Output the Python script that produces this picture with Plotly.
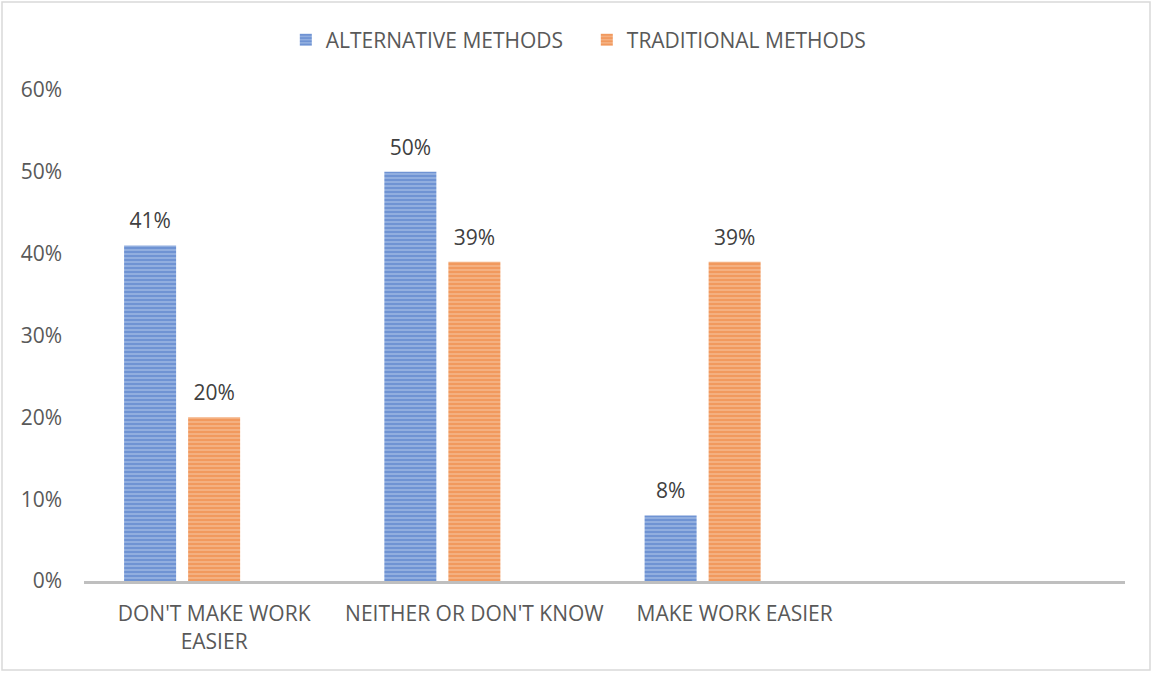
import plotly.graph_objects as go

categories = ["DON'T MAKE WORK<br>EASIER", "NEITHER OR DON'T KNOW", "MAKE WORK EASIER", " "]
alternative = [0.41, 0.50, 0.08]
traditional = [0.20, 0.39, 0.39]
blank_series = [None, None, None]
y_ticks = [0, 0.1, 0.2, 0.3, 0.4, 0.5, 0.6]
y_tick_labels = ["0%", "10%", "20%", "30%", "40%", "50%", "60%"]

FONT = "Open Sans"
FS = 21
LABEL_LIFT = 0.0100  # invisible spacer (axis units) so value labels sit above bars like the original

def pct(vals):
    return [f"{v*100:.0f}%" for v in vals]

fig = go.Figure()
series = [
    ("ALTERNATIVE METHODS", alternative, "alt", "#4472c4", "#9ab4e2"),
    ("TRADITIONAL METHODS", traditional, "trad", "#ed7d31", "#f5b58a"),
]
for name, vals, grp, dark, light in series:
    fig.add_trace(go.Bar(
        x=categories[:3], y=vals, name=name, offsetgroup=grp,
        marker=dict(color=dark, line=dict(width=0),
                    pattern=dict(shape="-", fgcolor=dark, bgcolor=light, size=4, solidity=0.6)),
    ))
for name, vals, grp, dark, light in series:
    fig.add_trace(go.Bar(
        x=categories[:3], y=[LABEL_LIFT] * len(vals), offsetgroup=grp, showlegend=False,
        marker=dict(color="rgba(0,0,0,0)", line=dict(width=0)), hoverinfo="skip",
        text=pct(vals), textposition="outside", cliponaxis=False,
        textfont=dict(family=FONT, size=FS, color="#404040"),
    ))
fig.add_trace(go.Bar(
    x=categories[:3], y=blank_series, name="", offsetgroup="blank", showlegend=False,
    marker=dict(color="rgba(0,0,0,0)"), hoverinfo="skip",
))

fig.update_layout(
    width=1154, height=673,
    paper_bgcolor="white", plot_bgcolor="white",
    margin=dict(l=84, r=29, t=90, b=92),
    barmode="relative", bargap=0.262, bargroupgap=0.1875,
    font=dict(family=FONT, size=FS, color="#595959"),
    legend=dict(orientation="h", x=0.5085, xanchor="center", xref="container",
                y=1 - 40 / 673, yanchor="middle", yref="container",
                font=dict(family=FONT, size=FS, color="#595959"),
                itemwidth=30, traceorder="normal", entrywidth=256, entrywidthmode="pixels"),
    showlegend=True,
    xaxis=dict(type="category", categoryorder="array", categoryarray=categories,
               range=[-0.5, 3.5], showline=True, linecolor="#bfbfbf", linewidth=3,
               showgrid=False, ticks="", ticklabelstandoff=12,
               tickfont=dict(family=FONT, size=FS, color="#595959"), zeroline=False),
    yaxis=dict(range=[0, 0.6], tickvals=y_ticks, ticktext=y_tick_labels, showgrid=False,
               zeroline=False, showline=False, ticks="", ticklabelstandoff=21,
               tickfont=dict(family=FONT, size=FS, color="#595959")),
    shapes=[dict(type="rect", xref="paper", yref="paper", x0=-82/1041, x1=1+25/1041,
                 y0=-(92 - 3)/491, y1=1+88/491, line=dict(color="#d9d9d9", width=1.5),
                 fillcolor="rgba(0,0,0,0)", layer="below")],
)

fig.write_html("out.html", config={"displayModeBar": False},
               post_script="document.body.style.margin='0';")
